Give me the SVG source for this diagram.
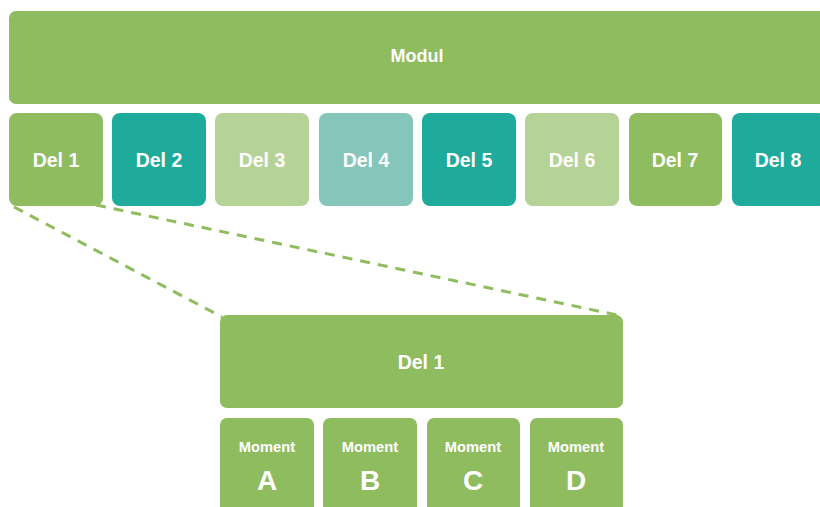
<svg xmlns="http://www.w3.org/2000/svg" width="820" height="507" viewBox="0 0 820 507">
<style>
.t{font-family:"Liberation Sans",Arial,sans-serif;font-weight:bold;fill:#fff;text-anchor:middle;dominant-baseline:central}
.g{fill:#8FBC5F}.tl{fill:#1EAB9C}.lg{fill:#B5D396}.lt{fill:#86C5BA}
.d{font-size:19.5px}.md{font-size:18px}.m{font-size:14.7px}.l{font-size:28px}
</style>
<rect width="820" height="507" fill="#fff"/>
<g id="connectors" stroke="#8FBC5F" stroke-width="3" stroke-dasharray="10,8" fill="none">
<line x1="14" y1="207" x2="222" y2="317"/>
<line x1="96" y1="205" x2="617" y2="315"/>
</g>
<g id="modul"><rect class="g" x="9" y="11" width="820" height="93" rx="7"/><text class="t md" x="417" y="56">Modul</text></g>
<g id="del1"><rect class="g" x="9" y="113" width="94" height="93" rx="8"/><text class="t d" x="56" y="160">Del 1</text></g>
<g id="del2"><rect class="tl" x="112" y="113" width="94" height="93" rx="8"/><text class="t d" x="159" y="160">Del 2</text></g>
<g id="del3"><rect class="lg" x="215" y="113" width="94" height="93" rx="8"/><text class="t d" x="262" y="160">Del 3</text></g>
<g id="del4"><rect class="lt" x="319" y="113" width="94" height="93" rx="8"/><text class="t d" x="366" y="160">Del 4</text></g>
<g id="del5"><rect class="tl" x="422" y="113" width="94" height="93" rx="8"/><text class="t d" x="469" y="160">Del 5</text></g>
<g id="del6"><rect class="lg" x="525" y="113" width="94" height="93" rx="8"/><text class="t d" x="572" y="160">Del 6</text></g>
<g id="del7"><rect class="g" x="629" y="113" width="93" height="93" rx="8"/><text class="t d" x="675" y="160">Del 7</text></g>
<g id="del8"><rect class="tl" x="732" y="113" width="94" height="93" rx="8"/><text class="t d" x="778" y="160">Del 8</text></g>
<g id="del1-detail"><rect class="g" x="220" y="315" width="403" height="93" rx="7"/><text class="t d" x="421" y="362">Del 1</text></g>
<g id="momentA"><rect class="g" x="220" y="418" width="94" height="100" rx="7"/><text class="t m" x="267" y="447">Moment</text><text class="t l" x="267" y="480">A</text></g>
<g id="momentB"><rect class="g" x="323" y="418" width="94" height="100" rx="7"/><text class="t m" x="370" y="447">Moment</text><text class="t l" x="370" y="480">B</text></g>
<g id="momentC"><rect class="g" x="427" y="418" width="93" height="100" rx="7"/><text class="t m" x="473" y="447">Moment</text><text class="t l" x="473" y="480">C</text></g>
<g id="momentD"><rect class="g" x="530" y="418" width="93" height="100" rx="7"/><text class="t m" x="576" y="447">Moment</text><text class="t l" x="576" y="480">D</text></g>
</svg>
